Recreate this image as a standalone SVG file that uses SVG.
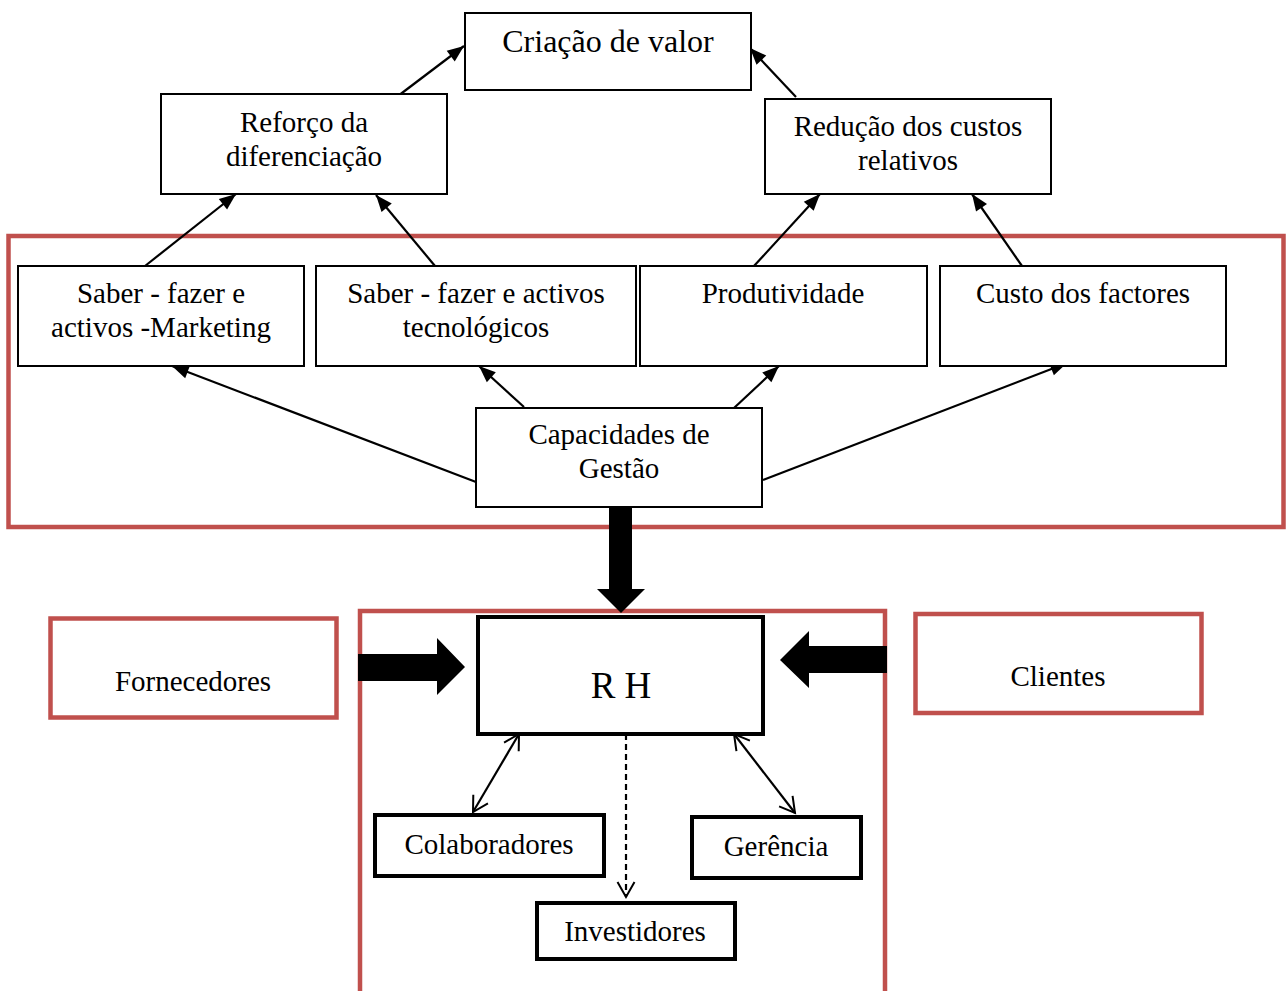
<svg xmlns="http://www.w3.org/2000/svg" width="1286" height="991" viewBox="0 0 1286 991">
<style>
text{font-family:"Liberation Serif","Times New Roman",serif;font-size:29px;fill:#000;text-anchor:middle}
.box{fill:#fff;stroke:#000;stroke-width:2}
.bold{fill:#fff;stroke:#000;stroke-width:4}
.red{fill:none;stroke:#C0504D;stroke-width:4.5}
.con{stroke:#000;stroke-width:2.2;fill:none}
.arr{marker-end:url(#tri)}
.dbl{marker-start:url(#vee);marker-end:url(#vee)}
.blk{fill:#000;stroke:none}
</style>
<defs>
<marker id="tri" markerUnits="userSpaceOnUse" markerWidth="20" markerHeight="16" viewBox="-16 -7 18 14" refX="0" refY="0" orient="auto">
<path d="M0,0 L-15,-6 L-15,6 Z" fill="#000"/>
</marker>
<marker id="vee" markerUnits="userSpaceOnUse" markerWidth="22" markerHeight="22" viewBox="-18 -11 20 22" refX="0" refY="0" orient="auto-start-reverse">
<path d="M-15,-8.5 L0,0 L-15,8.5" fill="none" stroke="#000" stroke-width="2"/>
</marker>
</defs>

<g id="frame-top"><rect class="red" x="8.5" y="236" width="1275" height="291"/></g>
<g id="frame-rh"><path class="red" d="M360,995 V611 H885 V995"/></g>

<g id="connectors">
<line class="con arr" x1="398" y1="96" x2="464" y2="46"/>
<line class="con arr" x1="796" y1="97" x2="750" y2="48"/>
<line class="con arr" x1="145" y1="266" x2="236" y2="194"/>
<line class="con arr" x1="435" y1="266" x2="376" y2="195"/>
<line class="con arr" x1="754" y1="266" x2="820" y2="194"/>
<line class="con arr" x1="1022" y1="266" x2="972" y2="194"/>
<line class="con arr" x1="476" y1="482" x2="172" y2="366"/>
<line class="con arr" x1="524" y1="407" x2="479" y2="366"/>
<line class="con arr" x1="734" y1="408" x2="779" y2="366"/>
<line class="con arr" x1="763" y1="480" x2="1067" y2="363"/>
<line class="con dbl" x1="519" y1="734" x2="473" y2="812"/>
<line class="con dbl" x1="734" y1="734" x2="795" y2="813"/>
<line class="con" x1="626" y1="734" x2="626" y2="897" stroke-dasharray="6,4" marker-end="url(#vee)"/>
<polygon class="blk" points="609,507 632,507 632,589 645,589 621,613 597,589 609,589"/>
<polygon class="blk" points="358,654 437,654 437,638 465,667 437,695 437,681 358,681"/>
<polygon class="blk" points="887,646 809,646 809,631 780,660 809,688 809,673 887,673"/>
</g>

<g id="criacao"><rect class="box" x="465" y="13" width="286" height="77"/><text x="608" y="52" style="font-size:32px">Criação de valor</text></g>
<g id="reforco"><rect class="box" x="161" y="94" width="286" height="100"/><text x="304" y="132">Reforço da</text><text x="304" y="166">diferenciação</text></g>
<g id="reducao"><rect class="box" x="765" y="99" width="286" height="95"/><text x="908" y="136">Redução dos custos</text><text x="908" y="170">relativos</text></g>
<g id="saber-mkt"><rect class="box" x="18" y="266" width="286" height="100"/><text x="161" y="303">Saber - fazer e</text><text x="161" y="337">activos -Marketing</text></g>
<g id="saber-tec"><rect class="box" x="316" y="266" width="320" height="100"/><text x="476" y="303">Saber - fazer e activos</text><text x="476" y="337">tecnológicos</text></g>
<g id="produtividade"><rect class="box" x="640" y="266" width="287" height="100"/><text x="783" y="303">Produtividade</text></g>
<g id="custo"><rect class="box" x="940" y="266" width="286" height="100"/><text x="1083" y="303">Custo dos factores</text></g>
<g id="capacidades"><rect class="box" x="476" y="408" width="286" height="99"/><text x="619" y="444">Capacidades de</text><text x="619" y="478">Gestão</text></g>

<g id="rh"><rect class="bold" x="478" y="617" width="285" height="117"/><text x="621" y="698" style="font-size:37px">R H</text></g>
<g id="fornecedores"><rect class="red" x="50.5" y="618.5" width="286" height="99"/><text x="193" y="691">Fornecedores</text></g>
<g id="clientes"><rect class="red" x="915.5" y="614" width="286" height="99"/><text x="1058" y="686">Clientes</text></g>
<g id="colaboradores"><rect class="bold" x="375" y="815" width="229" height="61"/><text x="489" y="854">Colaboradores</text></g>
<g id="gerencia"><rect class="bold" x="692" y="817" width="169" height="61"/><text x="776" y="856">Gerência</text></g>
<g id="investidores"><rect class="bold" x="537" y="903" width="198" height="56"/><text x="635" y="941">Investidores</text></g>
</svg>
